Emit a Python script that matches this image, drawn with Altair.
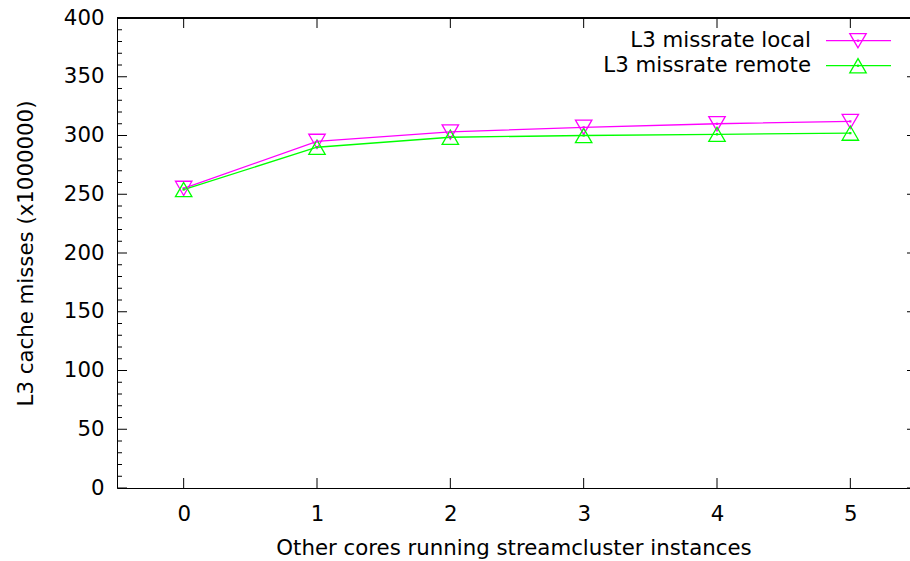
import altair as alt
import pandas as pd

# ---- data ----
cores = [0, 1, 2, 3, 4, 5]
local_vals = [255, 295, 303, 307, 310, 312]
remote_vals = [254, 290, 298.5, 300, 301, 302]
series_names = ["L3 missrate local", "L3 missrate remote"]
series_colors = ["#ff00ff", "#00ff00"]
series_shapes = ["triangle-down", "triangle-up"]

y_major = [0, 50, 100, 150, 200, 250, 300, 350, 400]
y_minor = [v for v in range(0, 401, 10) if v % 50 != 0]
x_ticks = [0, 1, 2, 3, 4, 5]

W, H = 793, 470
FONT = "DejaVu Sans"
FS = 21.3

df = pd.DataFrame({
    "cores": cores * 2,
    "value": local_vals + remote_vals,
    "series": [series_names[0]] * len(cores) + [series_names[1]] * len(cores),
})

xscale = alt.Scale(domain=[-0.5, 5.4475], nice=False, zero=False)
yscale = alt.Scale(domain=[0, 400], nice=False, zero=False)
cscale = alt.Scale(domain=series_names, range=series_colors)
sscale = alt.Scale(domain=series_names, range=series_shapes)

x_axis = alt.Axis(values=x_ticks, ticks=False, grid=False, domain=True, domainColor="black",
                  labelFont=FONT, labelFontSize=FS, labelColor="black", labelPadding=15,
                  title="Other cores running streamcluster instances",
                  titleFont=FONT, titleFontSize=FS, titleFontWeight="normal", titleColor="black",
                  titlePadding=13, format="d")
y_axis = alt.Axis(values=y_major, ticks=False, grid=False, domain=True, domainColor="black",
                  labelFont=FONT, labelFontSize=FS, labelColor="black", labelPadding=13,
                  title="L3 cache misses (x1000000)",
                  titleFont=FONT, titleFontSize=FS, titleFontWeight="normal", titleColor="black",
                  titlePadding=27)

base = alt.Chart(df)

lines = base.mark_line(strokeWidth=1.3).encode(
    x=alt.X("cores:Q", scale=xscale, axis=x_axis),
    y=alt.Y("value:Q", scale=yscale, axis=y_axis),
    color=alt.Color("series:N", scale=cscale, legend=None),
    detail="series:N",
)
points = base.mark_point(filled=False, size=270, strokeWidth=1.3, opacity=1).encode(
    x=alt.X("cores:Q", scale=xscale),
    y=alt.Y("value:Q", scale=yscale),
    color=alt.Color("series:N", scale=cscale, legend=None),
    shape=alt.Shape("series:N", scale=sscale, legend=None),
)
dots = base.mark_point(filled=True, size=5, opacity=1, shape="square").encode(
    x=alt.X("cores:Q", scale=xscale),
    y=alt.Y("value:Q", scale=yscale),
    color=alt.Color("series:N", scale=cscale, legend=None),
)

# ---- inward ticks and border ----
ymaj_df = pd.DataFrame({"v": y_major})
ymin_df = pd.DataFrame({"v": y_minor})
xt_df = pd.DataFrame({"v": x_ticks})

left_major = alt.Chart(ymaj_df).mark_rule(color="black", strokeWidth=1).encode(
    y=alt.Y("v:Q", scale=yscale), x=alt.value(0), x2=alt.value(10))
left_minor = alt.Chart(ymin_df).mark_rule(color="black", strokeWidth=1).encode(
    y=alt.Y("v:Q", scale=yscale), x=alt.value(0), x2=alt.value(5))
right_major = alt.Chart(ymaj_df).mark_rule(color="black", strokeWidth=1).encode(
    y=alt.Y("v:Q", scale=yscale), x=alt.value(W - 3), x2=alt.value(W))
top_ticks = alt.Chart(xt_df).mark_rule(color="black", strokeWidth=1).encode(
    x=alt.X("v:Q", scale=xscale), y=alt.value(0), y2=alt.value(10))
bottom_ticks = alt.Chart(xt_df).mark_rule(color="black", strokeWidth=1).encode(
    x=alt.X("v:Q", scale=xscale), y=alt.value(H - 10), y2=alt.value(H))
top_border = alt.Chart(xt_df).mark_rule(color="black", strokeWidth=1).encode(
    x=alt.value(0), x2=alt.value(W), y=alt.value(0))

# ---- key (top right, symbol to the right of the label) ----
leg_df = pd.DataFrame({"series": series_names, "row": [0, 1]})
leg_layers = []
for i, name in enumerate(series_names):
    yy = 22.7 + 25 * i
    one = alt.Chart(leg_df[leg_df["series"] == name])
    leg_layers.append(one.mark_text(align="right", baseline="middle", font=FONT,
                                    fontSize=FS, color="black").encode(
        text="series:N", x=alt.value(694), y=alt.value(yy)))
    leg_layers.append(one.mark_rule(color=series_colors[i], strokeWidth=1.3).encode(
        x=alt.value(709), x2=alt.value(774), y=alt.value(yy)))
    leg_layers.append(one.mark_point(shape=series_shapes[i], filled=False, size=270,
                                     strokeWidth=1.3, color=series_colors[i], opacity=1).encode(
        x=alt.value(741), y=alt.value(yy)))
    leg_layers.append(one.mark_point(shape="square", filled=True, size=5,
                                     color=series_colors[i], opacity=1).encode(
        x=alt.value(741), y=alt.value(yy)))

chart = alt.layer(
    lines, points, dots,
    left_major, left_minor, right_major, top_ticks, bottom_ticks, top_border,
    *leg_layers,
).properties(
    width=W, height=H,
    autosize=alt.AutoSizeParams(type="none"),
    padding={"left": 117, "top": 18, "right": 0, "bottom": 73},
).configure_view(stroke=None).configure(background="white")

chart.save("out.html", embed_options={"renderer": "svg", "actions": False})
